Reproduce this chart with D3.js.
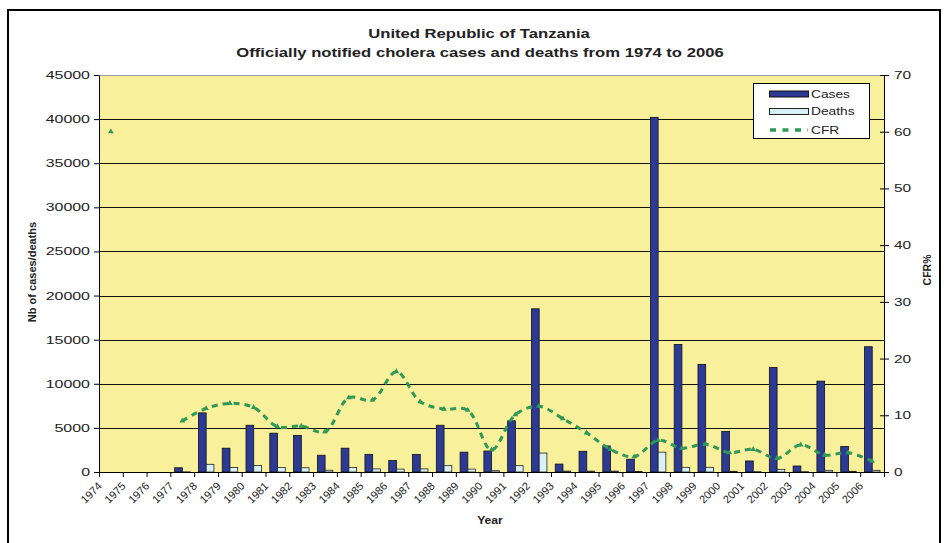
<!DOCTYPE html>
<html><head><meta charset="utf-8">
<script src="https://cdn.jsdelivr.net/npm/d3@7"></script>
<style>
html,body{margin:0;padding:0;background:#fff;}
svg{display:block;font-family:"Liberation Sans",Arial,sans-serif;}
</style></head>
<body><svg id="c" width="946" height="543"></svg>
<script>
const years = ["1974","1975","1976","1977","1978","1979","1980","1981","1982","1983","1984","1985","1986","1987","1988","1989","1990","1991","1992","1993","1994","1995","1996","1997","1998","1999","2000","2001","2002","2003","2004","2005","2006"];
const cases = [0,0,0,480,6700,2700,5300,4400,4150,1900,2700,2000,1300,2000,5300,2250,2380,5800,18500,900,2350,2950,1450,40200,14450,12200,4600,1250,11850,680,10300,2900,14200];
const deaths = [0,0,0,20,870,500,740,500,480,200,500,350,330,350,720,330,150,720,2150,100,100,100,60,2250,530,530,80,40,300,40,190,80,190];
const cfr = [60,null,null,9.0,11.2,12.1,11.4,8.0,8.1,7.1,13.1,12.7,17.7,12.4,11.1,10.9,3.9,10.1,11.6,9.4,6.9,4.0,2.7,5.6,4.2,4.9,3.4,4.0,2.4,4.8,3.0,3.4,1.9];
const leftTicks = [0,5000,10000,15000,20000,25000,30000,35000,40000,45000];
const rightTicks = [0,10,20,30,40,50,60,70];
const titleLines = ["United Republic of Tanzania","Officially notified cholera cases and deaths from 1974 to 2006"];
const seriesNames = ["Cases","Deaths","CFR"];

const C_CASES="#2c3a96", C_DEATHS="#d8f1f6", C_CFR="#2e9858", C_BG="#f9f09c";
const svg = d3.select("#c");
const X0=99, X1=884, Y0=75, Y1=472;

function hs(sel,f){ sel.each(function(){ const L=this.getComputedTextLength(); this.setAttribute("textLength",L*f); this.setAttribute("lengthAdjust","spacingAndGlyphs"); }); }

// outer border
svg.append("rect").attr("x",8).attr("y",10).attr("width",932).attr("height",560)
  .attr("fill","none").attr("stroke","#000").attr("stroke-width",2);

const x = d3.scaleBand().domain(years).range([X0,X1]);
const bw = x.bandwidth();
const xs = d3.scaleBand().domain(["cases","deaths"]).range([bw*0.18,bw*0.83]);
const yL = d3.scaleLinear().domain([0,45000]).range([Y1,Y0]);
const yR = d3.scaleLinear().domain([0,70]).range([Y1,Y0]);

// plot background
svg.append("rect").attr("x",X0).attr("y",Y0).attr("width",X1-X0).attr("height",Y1-Y0).attr("fill",C_BG);

// gridlines
svg.append("g").selectAll("line").data(leftTicks.filter(d=>d>0)).join("line")
  .attr("x1",X0).attr("x2",X1).attr("y1",d=>Math.round(yL(d))+0.5).attr("y2",d=>Math.round(yL(d))+0.5)
  .attr("stroke",d=>d===45000?"#999":"#111").attr("stroke-width",1);

// bars
const g = svg.append("g");
g.selectAll("rect.cases").data(years).join("rect").attr("class","cases")
  .attr("x",d=>x(d)+xs("cases")).attr("width",xs.bandwidth())
  .attr("y",(d,i)=>yL(cases[i])).attr("height",(d,i)=>Y1-yL(cases[i]))
  .attr("fill",C_CASES).attr("stroke","#111").attr("stroke-width",0.8)
  .style("display",(d,i)=>cases[i]>0?null:"none");
g.selectAll("rect.deaths").data(years).join("rect").attr("class","deaths")
  .attr("x",d=>x(d)+xs("deaths")).attr("width",xs.bandwidth())
  .attr("y",(d,i)=>yL(deaths[i])).attr("height",(d,i)=>Y1-yL(deaths[i]))
  .attr("fill",C_DEATHS).attr("stroke","#222").attr("stroke-width",0.8)
  .style("display",(d,i)=>deaths[i]>0?null:"none");

// CFR line
const pts = years.map((d,i)=>({x:x(d)+bw/2,v:cfr[i]}));
const line = d3.line().defined(p=>p.v!=null).x(p=>p.x).y(p=>yR(p.v)).curve(d3.curveCatmullRom.alpha(0.5));
svg.append("path").attr("d",line(pts)).attr("fill","none").attr("stroke",C_CFR)
  .attr("stroke-width",3).attr("stroke-dasharray","6,5");
svg.append("g").selectAll("path").data(pts.filter(p=>p.v!=null)).join("path")
  .attr("d",d3.symbol(d3.symbolTriangle,14)()).attr("transform",p=>`translate(${p.x},${yR(p.v)})`)
  .attr("fill",C_CFR);

// left axis
const ax = svg.append("g").attr("transform",`translate(${X0},0)`)
  .call(d3.axisLeft(yL).tickValues(leftTicks).tickSize(5).tickSizeOuter(0).tickFormat(d3.format("d")));
ax.select(".domain").attr("stroke","#000");
ax.selectAll("line").attr("stroke","#000");
ax.selectAll("text").attr("x",-9).attr("font-size",11).attr("fill","#222").attr("font-family","Liberation Sans, Arial");
hs(ax.selectAll("text"),1.45);

// right axis
const ar = svg.append("g").attr("transform",`translate(${X1},0)`)
  .call(d3.axisRight(yR).tickValues(rightTicks).tickSize(5).tickSizeOuter(0).tickFormat(d3.format("d")));
ar.select(".domain").attr("stroke","#000");
ar.selectAll(".tick line").attr("x1",-4).attr("x2",5).attr("stroke","#000");
ar.selectAll("text").attr("x",10).attr("font-size",11).attr("fill","#222").attr("font-family","Liberation Sans, Arial");
hs(ar.selectAll("text"),1.4);

// bottom axis
const xb = d3.scaleLinear().domain([0,years.length]).range([X0,X1]);
const ab = svg.append("g").attr("transform",`translate(0,${Y1})`)
  .call(d3.axisBottom(xb).tickValues(d3.range(0,years.length+1)).tickSize(5).tickSizeOuter(0).tickFormat(""));
ab.select(".domain").attr("stroke","#000");
ab.selectAll("line").attr("stroke","#000");

// x labels
svg.append("g").selectAll("text").data(years).join("text")
  .attr("transform",d=>`translate(${x(d)+bw/2-11},${Y1+12}) rotate(-45)`)
  .attr("text-anchor","end").attr("dy","0.35em").attr("font-size",11).attr("fill","#222").text(d=>d);

// titles
const tt = svg.append("g").attr("font-weight","bold").attr("font-size",13).attr("fill","#222").attr("text-anchor","middle");
tt.append("text").attr("x",479).attr("y",38).text(titleLines[0]);
tt.append("text").attr("x",480).attr("y",57).text(titleLines[1]);
hs(tt.selectAll("text"),1.28);

svg.append("text").attr("transform","translate(36,272) rotate(-90)").attr("text-anchor","middle")
  .attr("font-weight","bold").attr("font-size",11).attr("fill","#222").text("Nb of cases/deaths");
svg.append("text").attr("transform","translate(931,270) rotate(-90)").attr("text-anchor","middle")
  .attr("font-weight","bold").attr("font-size",10.5).attr("fill","#222").text("CFR%");
const yt = svg.append("text").attr("x",490).attr("y",524).attr("text-anchor","middle")
  .attr("font-weight","bold").attr("font-size",11).attr("fill","#222").text("Year");
hs(yt,1.1);

// legend
const lg = svg.append("g");
lg.append("rect").attr("x",753.5).attr("y",83.5).attr("width",116).attr("height",55).attr("fill","#fff").attr("stroke","#000");
const ly = [94,111.5,130];
lg.append("rect").attr("x",769.5).attr("y",ly[0]-3).attr("width",39).attr("height",6).attr("fill",C_CASES).attr("stroke","#111");
lg.append("rect").attr("x",769.5).attr("y",ly[1]-3).attr("width",39).attr("height",6).attr("fill",C_DEATHS).attr("stroke","#222");
lg.append("line").attr("x1",770).attr("x2",808).attr("y1",ly[2]).attr("y2",ly[2]).attr("stroke",C_CFR).attr("stroke-width",3.5).attr("stroke-dasharray","6,6.5");
const lt = lg.selectAll("text").data(seriesNames).join("text").attr("x",811).attr("y",(d,i)=>ly[i]).attr("dy","0.35em")
  .attr("font-size",11).attr("fill","#222").text(d=>d);
hs(lt,1.25);
</script></body></html>
